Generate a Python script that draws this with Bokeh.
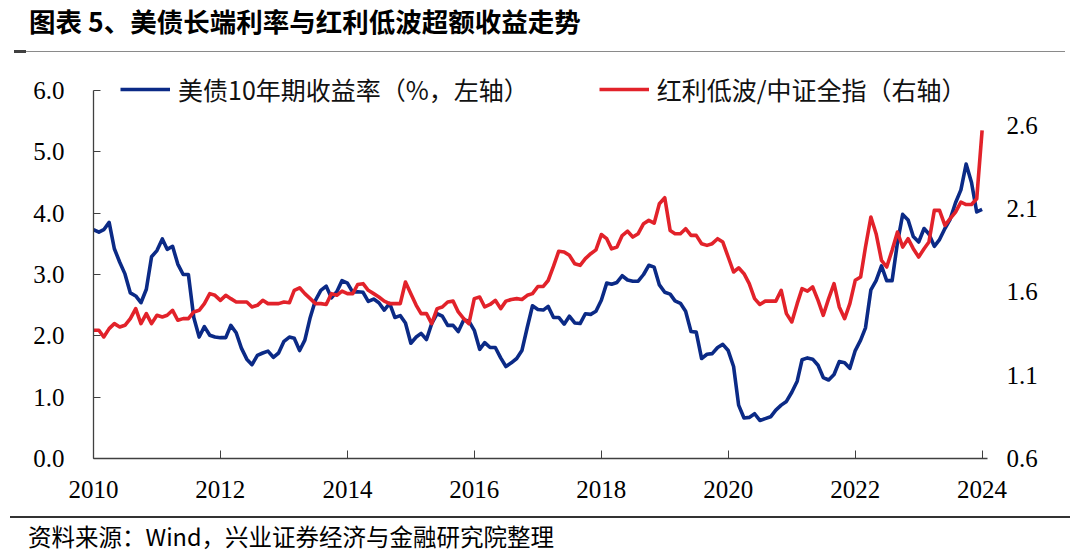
import pandas as pd
from bokeh.plotting import figure
from bokeh.models import (Range1d, LinearAxis, FixedTicker, PrintfTickFormatter,
                          DatetimeTickFormatter, Legend, LegendItem, Div, ColumnDataSource)
from bokeh.layouts import column
from bokeh.embed import file_html
from bokeh.resources import INLINE

# ---------------- data ----------------
dates = pd.date_range("2010-01-01", "2024-01-01", freq="MS")

us10y = [
    3.73, 3.69, 3.73, 3.85, 3.42, 3.20, 3.01, 2.70, 2.65, 2.54, 2.76, 3.29,
    3.39, 3.58, 3.41, 3.46, 3.17, 3.00, 3.00, 2.30, 1.98, 2.15, 2.01, 1.98,
    1.97, 1.97, 2.17, 2.05, 1.80, 1.62, 1.53, 1.68, 1.72, 1.75, 1.65, 1.72,
    1.91, 1.98, 1.96, 1.76, 1.93, 2.30, 2.58, 2.74, 2.81, 2.62, 2.72, 2.90,
    2.86, 2.71, 2.72, 2.71, 2.56, 2.60, 2.54, 2.42, 2.53, 2.30, 2.33, 2.21,
    1.88, 1.98, 2.04, 1.94, 2.20, 2.36, 2.32, 2.17, 2.17, 2.07, 2.26, 2.24,
    2.09, 1.78, 1.89, 1.81, 1.81, 1.64, 1.50, 1.56, 1.63, 1.76, 2.14, 2.49,
    2.43, 2.42, 2.48, 2.30, 2.30, 2.19, 2.32, 2.21, 2.20, 2.36, 2.35, 2.40,
    2.58, 2.86, 2.84, 2.87, 2.98, 2.91, 2.89, 2.89, 3.00, 3.15, 3.12, 2.83,
    2.71, 2.68, 2.57, 2.53, 2.40, 2.07, 2.06, 1.63, 1.70, 1.71, 1.81, 1.86,
    1.76, 1.50, 0.87, 0.66, 0.67, 0.73, 0.62, 0.65, 0.68, 0.79, 0.87, 0.93,
    1.08, 1.26, 1.61, 1.64, 1.62, 1.52, 1.32, 1.28, 1.37, 1.58, 1.56, 1.47,
    1.76, 1.93, 2.13, 2.75, 2.90, 3.14, 2.90, 2.90, 3.52, 3.98, 3.89, 3.62,
    3.53, 3.75, 3.66, 3.46, 3.57, 3.75, 3.90, 4.17, 4.38, 4.80, 4.50, 4.02,
    4.06,
]

ratio = [
    1.37, 1.37, 1.33, 1.38, 1.41, 1.39, 1.40, 1.44, 1.50, 1.41, 1.47, 1.41,
    1.46, 1.45, 1.46, 1.49, 1.43, 1.44, 1.44, 1.48, 1.49, 1.53, 1.59, 1.58,
    1.55, 1.58, 1.56, 1.54, 1.54, 1.54, 1.51, 1.52, 1.55, 1.53, 1.53, 1.53,
    1.54, 1.535, 1.61, 1.625, 1.59, 1.56, 1.53, 1.53, 1.525, 1.59, 1.58, 1.605,
    1.59, 1.59, 1.645, 1.65, 1.61, 1.59, 1.57, 1.545, 1.53, 1.53, 1.53, 1.66,
    1.59, 1.52, 1.47, 1.47, 1.41, 1.50, 1.51, 1.54, 1.545, 1.48, 1.44, 1.41,
    1.56, 1.57, 1.51, 1.525, 1.55, 1.50, 1.545, 1.555, 1.56, 1.555, 1.58, 1.59,
    1.633, 1.633, 1.669, 1.755, 1.845, 1.84, 1.82, 1.77, 1.76, 1.80, 1.83, 1.853,
    1.945, 1.92, 1.859, 1.87, 1.939, 1.965, 1.93, 1.95, 2.01, 2.03, 2.013, 2.13,
    2.166, 1.969, 1.95, 1.95, 1.98, 1.94, 1.94, 1.89, 1.88, 1.89, 1.92, 1.90,
    1.81, 1.72, 1.745, 1.71, 1.65, 1.56, 1.525, 1.545, 1.545, 1.545, 1.61, 1.47,
    1.42, 1.53, 1.62, 1.605, 1.63, 1.55, 1.46, 1.56, 1.65, 1.51, 1.44, 1.53,
    1.67, 1.69, 1.87, 2.05, 1.95, 1.79, 1.75, 1.85, 1.96, 1.87, 1.92, 1.86,
    1.81, 1.86, 1.90, 2.09, 2.09, 2.00, 2.04, 2.08, 2.14, 2.125, 2.125, 2.16,
    2.57,
]

left_ticks = [0, 1, 2, 3, 4, 5, 6]
right_ticks = [0.6, 1.1, 1.6, 2.1, 2.6]
year_ticks = [2010, 2012, 2014, 2016, 2018, 2020, 2022, 2024]

label_blue = "美债10年期收益率（%，左轴）"
label_red = "红利低波/中证全指（右轴）"
title_text = "图表 5、美债长端利率与红利低波超额收益走势"
source_text = "资料来源：Wind，兴业证券经济与金融研究院整理"

# ---------------- styles ----------------
BLUE = "#0B2A86"
RED = "#E2222A"
AXIS = "#404040"
TICK_FONT = "Liberation Serif"
CJK_FONT = "Noto Sans CJK SC"

# axis extents: left 0..6 over 368px, right 0.6..2.81 over the same span;
# the frame is extended 24px above the 6.0 line so the legend is not clipped.
AXIS_PX = 368.0
EXTRA_PX = 24.0
scale = (AXIS_PX + EXTRA_PX) / AXIS_PX
left_end = 0 + (6 - 0) * scale
right_end = 0.6 + (2.81 - 0.6) * scale


def ms(ts):
    return pd.Timestamp(ts).value / 1e6


src = ColumnDataSource(dict(date=dates, us10y=us10y, ratio=ratio))

p = figure(width=1064, height=459, x_axis_type="datetime",
           output_backend="svg", toolbar_location=None,
           x_range=Range1d(ms("2010-01-01"), ms("2024-02-01")),
           y_range=Range1d(0, left_end),
           min_border_left=85, min_border_right=85,
           min_border_top=37 - int(EXTRA_PX), min_border_bottom=54)
p.outline_line_color = None
p.grid.visible = False
p.background_fill_color = "white"
p.border_fill_color = "white"

p.extra_y_ranges = {"right": Range1d(0.6, right_end)}

# left axis
ya = p.yaxis[0]
ya.bounds = (0, 6)
ya.ticker = FixedTicker(ticks=left_ticks)
ya.formatter = PrintfTickFormatter(format="%.1f")
ya.axis_line_color = AXIS
ya.axis_line_width = 1.3
ya.major_tick_line_color = AXIS
ya.major_tick_in = 7
ya.major_tick_out = 0
ya.minor_tick_line_color = None
ya.major_label_standoff = 29
ya.major_label_text_font = TICK_FONT
ya.major_label_text_font_size = "25px"
ya.major_label_text_color = "black"

# bottom axis
xa = p.xaxis[0]
xa.ticker = FixedTicker(ticks=[ms(f"{y}-01-01") for y in year_ticks])
xa.formatter = DatetimeTickFormatter(years="%Y", months="%Y", days="%Y",
                                     hours="%Y", minutes="%Y", seconds="%Y")
xa.axis_line_color = AXIS
xa.axis_line_width = 1.3
xa.major_tick_line_color = AXIS
xa.major_tick_in = 8
xa.major_tick_out = 0
xa.minor_tick_line_color = None
xa.major_label_standoff = 22
xa.major_label_text_font = TICK_FONT
xa.major_label_text_font_size = "25px"
xa.major_label_text_color = "black"

# right axis
ra = LinearAxis(y_range_name="right")
ra.ticker = FixedTicker(ticks=right_ticks)
ra.formatter = PrintfTickFormatter(format="%.1f")
ra.axis_line_color = None
ra.major_tick_line_color = None
ra.minor_tick_line_color = None
ra.major_label_standoff = 13
ra.major_label_text_font = TICK_FONT
ra.major_label_text_font_size = "25px"
ra.major_label_text_color = "black"
p.add_layout(ra, "right")

r1 = p.line(x="date", y="us10y", source=src, line_color=BLUE, line_width=3.6,
            line_join="round")
r2 = p.line(x="date", y="ratio", source=src, y_range_name="right",
            line_color=RED, line_width=3.6, line_join="round")

legend = Legend(items=[LegendItem(label=label_blue, renderers=[r1]),
                       LegendItem(label=label_red, renderers=[r2])],
                location=(27, 351), orientation="horizontal",
                padding=0, margin=0, spacing=70,
                glyph_width=50, glyph_height=30, label_height=30,
                label_standoff=8,
                label_text_font=CJK_FONT, label_text_font_size="25px",
                label_text_color="#111111",
                border_line_color=None, background_fill_alpha=0)
p.add_layout(legend, "center")

title_html = (
    '<div style="position:relative;width:1064px;height:45px;">'
    f'<div style="position:absolute;left:21px;top:-2px;font-family:\'{CJK_FONT}\';'
    'font-weight:bold;font-size:26.5px;line-height:30px;color:#000;white-space:nowrap;">'
    f'{title_text}</div>'
    '<div style="position:absolute;left:7px;top:43px;width:1050px;height:0;'
    'border-top:1.5px solid #8a8a8a;"></div>'
    '<div style="position:absolute;left:6px;top:42px;width:12px;height:3px;'
    'background:#404040;"></div>'
    '</div>'
)
title_div = Div(text=title_html, width=1064, height=45, margin=0)

src_html = (
    '<div style="position:relative;width:1064px;height:37px;">'
    '<div style="position:absolute;left:2px;top:4px;width:1060px;height:0;'
    'border-top:2px solid #333333;"></div>'
    f'<div style="position:absolute;left:20px;top:11px;font-family:\'{CJK_FONT}\';'
    'font-size:23.5px;line-height:27px;color:#000;white-space:nowrap;">'
    f'{source_text}</div>'
    '</div>'
)
src_div = Div(text=src_html, width=1064, height=37, margin=0)

p.margin = 0
layout = column(title_div, p, src_div, spacing=0, margin=(8, 8, 8, 8))

open("out.html", "w").write(file_html(layout, INLINE))
